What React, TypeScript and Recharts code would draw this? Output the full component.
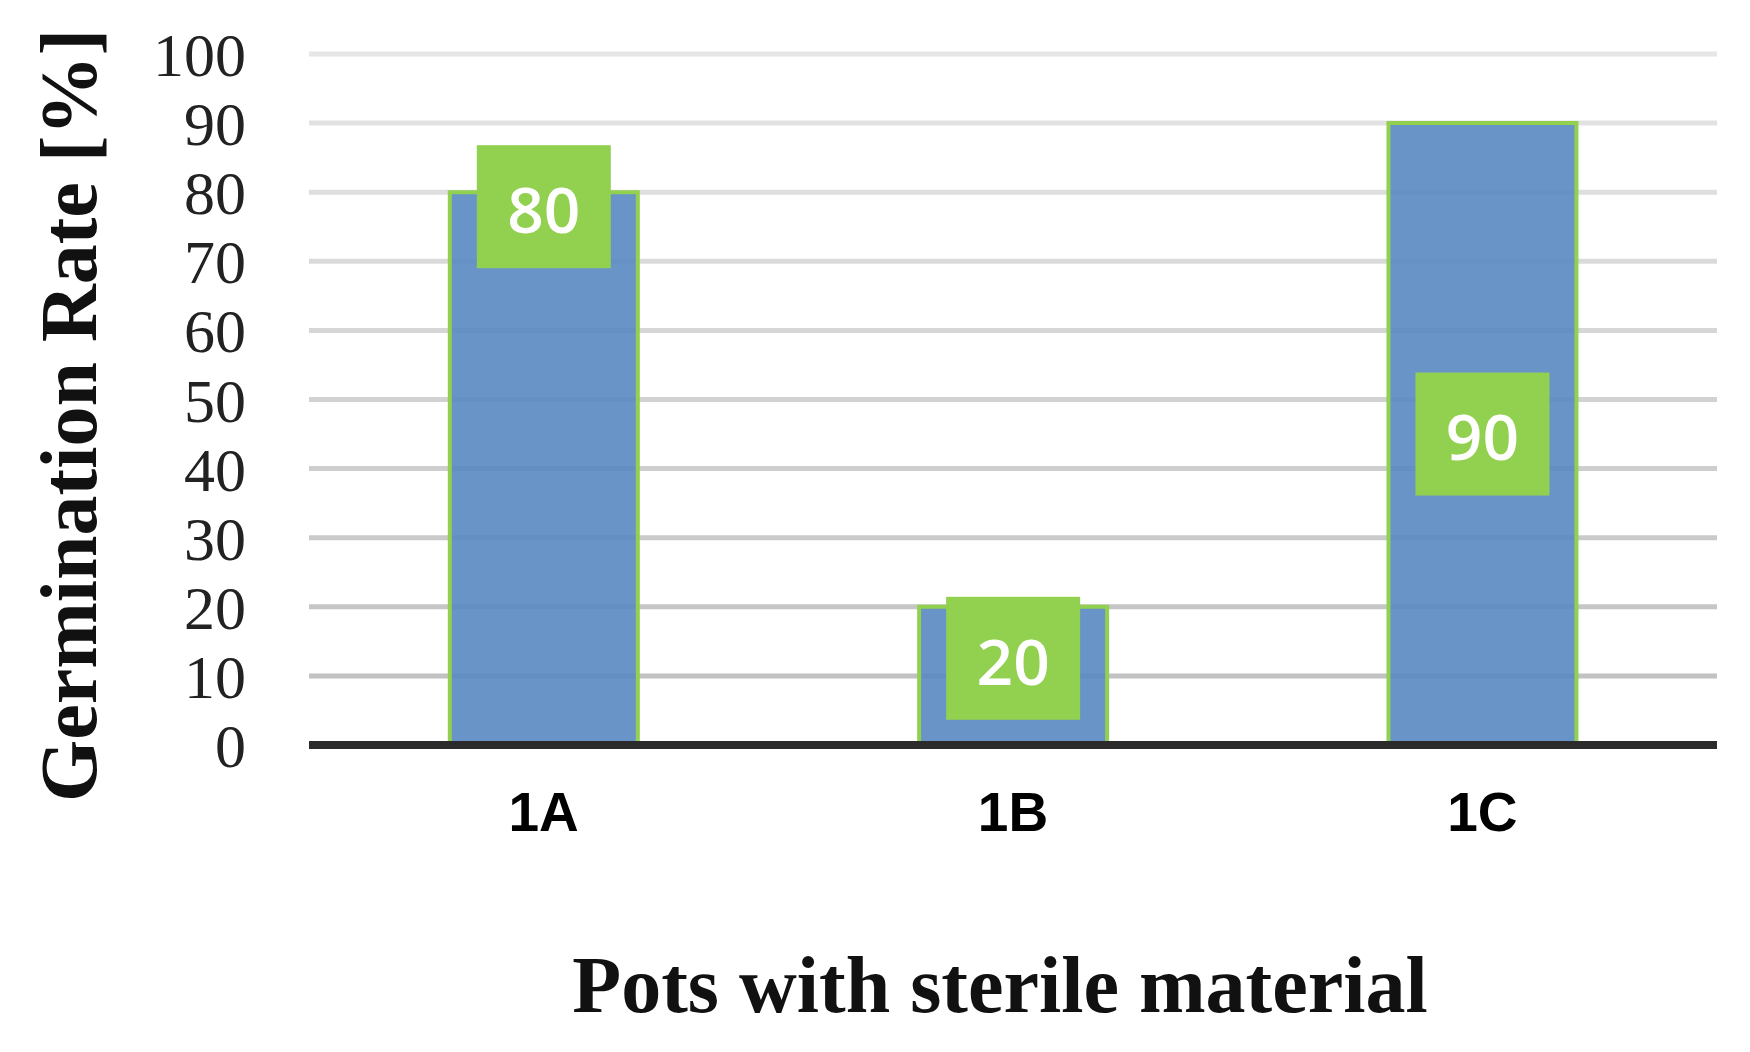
import { BarChart, Bar, XAxis, YAxis, CartesianGrid, LabelList, Label } from 'recharts'

const categories = ['1A', '1B', '1C']
const germinationRate = [80, 20, 90]
const yTicks = [0, 10, 20, 30, 40, 50, 60, 70, 80, 90, 100]

// where each value box sits, relative to the bar top (null = bar middle)
const boxShift = [-47, -10, null]
const BOX_W = 134
const BOX_H = 123

const data = categories.map((pot, i) => ({ pot, rate: germinationRate[i] }))

function gridLine(props: any) {
  const { x1, x2, y1, y2 } = props
  // lines get a little darker towards the bottom, like the source image
  const t = Math.max(0, Math.min(1, (y1 - 54) / 691))
  const c = Math.round(230 - t * 40)
  return (
    <line
      key={`g-${y1}`}
      x1={x1} x2={x2} y1={y1} y2={y2}
      stroke={`rgb(${c},${c},${c})`}
      strokeWidth={5}
    />
  )
}

function valueBox(props: any) {
  const { x, y, width, height, value, index } = props
  const shift = boxShift[index]
  const cx = x + width / 2
  const top = shift === null ? y + height / 2 - BOX_H / 2 : y + shift
  return (
    <g>
      <rect x={cx - BOX_W / 2} y={top} width={BOX_W} height={BOX_H} fill="#92d050" />
      <text
        x={cx}
        y={top + BOX_H / 2 + 4}
        dy="0.35em"
        textAnchor="middle"
        fill="#fff"
        fontFamily="'Open Sans', sans-serif"
        fontWeight={600}
        fontSize={64}
      >
        {value}
      </text>
    </g>
  )
}

function yTitle(props: any) {
  const { viewBox } = props
  const cy = viewBox.y + viewBox.height / 2 + 16
  return (
    <text
      x={96}
      y={cy}
      transform={`rotate(-90 96 ${cy})`}
      textAnchor="middle"
      fontFamily="'Liberation Serif', 'Times New Roman', serif"
      fontWeight={700}
      fontSize={80}
      fill="#111"
    >
      Germination Rate [%]
    </text>
  )
}

function xTitle(props: any) {
  const { viewBox } = props
  return (
    <text
      x={viewBox.x + viewBox.width / 2 - 13}
      y={viewBox.y + 267}
      textAnchor="middle"
      fontFamily="'Liberation Serif', 'Times New Roman', serif"
      fontWeight={700}
      fontSize={80}
      fill="#111"
    >
      Pots with sterile material
    </text>
  )
}

export default function App() {
  return (
    <div style={{ position: 'absolute', left: 0, top: 0, background: '#fff' }}>
      <BarChart
        width={1750}
        height={1052}
        data={data}
        margin={{ top: 54, right: 33, bottom: 0, left: 0 }}
        barCategoryGap="30%"
      >
        <CartesianGrid vertical={false} horizontal={gridLine} />
        <XAxis
          dataKey="pot"
          height={307}
          tickLine={false}
          tickSize={0}
          tickMargin={47}
          axisLine={{ stroke: '#2b2b2b', strokeWidth: 8 }}
          tick={{ fontFamily: "'Liberation Sans', Arial, sans-serif", fontWeight: 700, fontSize: 55, fill: '#000' }}
        >
          <Label content={xTitle} />
        </XAxis>
        <YAxis
          width={309}
          domain={[0, 100]}
          ticks={yTicks}
          interval={0}
          axisLine={false}
          tickLine={false}
          tickSize={0}
          tickMargin={63}
          tick={{ fontFamily: "'Liberation Serif', 'Times New Roman', serif", fontSize: 62, fill: '#222' }}
        >
          <Label content={yTitle} />
        </YAxis>
        <Bar
          dataKey="rate"
          fill="#5988c2"
          fillOpacity={0.9}
          stroke="#92d050"
          strokeWidth={4}
          isAnimationActive={false}
        >
          <LabelList dataKey="rate" content={valueBox} />
        </Bar>
      </BarChart>
    </div>
  )
}
